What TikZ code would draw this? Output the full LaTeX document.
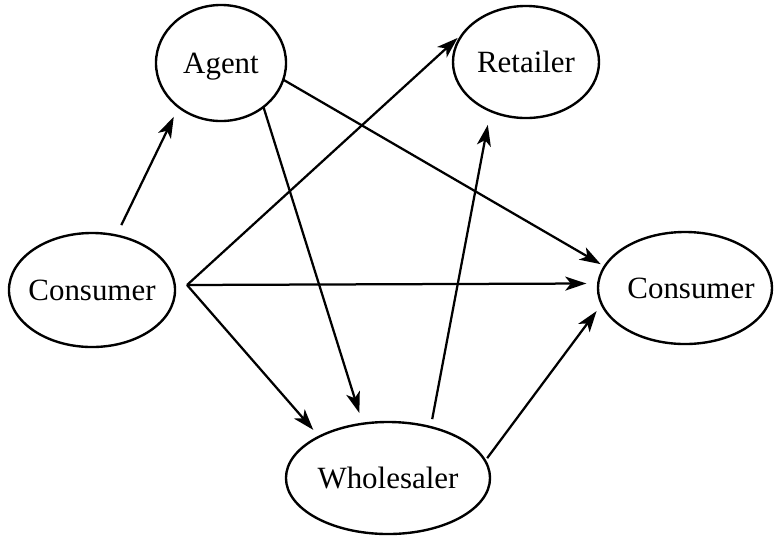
\documentclass[tikz,border=0pt]{standalone}
\usepackage{fontspec}
\setmainfont{Liberation Serif}
\usepackage{tikz}
\usetikzlibrary{shapes.geometric, arrows.meta, calc}

\begin{document}
\begin{tikzpicture}[x=0.025cm, y=-0.025cm,
    party/.style={ellipse, draw, line width=1.7pt, inner sep=0pt, outer sep=0pt,
      text depth=0pt, font=\fontsize{22}{26}\selectfont},
    flow/.style={line width=1.6pt, -{Stealth[length=15pt, width=10pt, inset=4pt]}}]
  \useasboundingbox (0,0) rectangle (776,535);
  \node[party, minimum width=3.25cm, minimum height=2.9cm] (agent) at (221,63) {\makebox[0pt]{Agent}};
  \node[party, minimum width=3.65cm, minimum height=2.8cm] (retailer) at (526,62) {\makebox[0pt]{Retailer}};
  \node[party, minimum width=4.15cm, minimum height=2.85cm] (consL) at (92,290) {\makebox[0pt]{Consumer}};
  \node[party, minimum width=4.35cm, minimum height=2.8cm] (consR) at (685,288) {\makebox[0pt]{\kern8.5pt Consumer}};
  \node[party, minimum width=5.1cm, minimum height=2.8cm] (wholesaler) at (388,478) {\makebox[0pt]{Wholesaler}};
  \coordinate (hub) at ($(consL.east)+(12,-5)$);
  \draw[flow, shorten <=8.2pt, shorten >=7.8pt] (consL.66.4) -- (agent.226.3);
  \draw[flow, shorten >=7.3pt] (hub) -- (retailer.153.9);
  \draw[flow, shorten >=8.5pt] (hub) -- (consR.177.4);
  \draw[flow, shorten >=6.4pt] (hub) -- (wholesaler.149.2);
  \draw[flow, shorten >=8pt] (agent.314.5) -- (wholesaler.115.3);
  \draw[flow, shorten >=3.3pt] (agent.345.9) -- (consR.165.7);
  \draw[flow, shorten <=5.8pt, shorten >=10.1pt] (wholesaler.50.2) -- (retailer.234.2);
  \draw[flow, shorten <=2.4pt, shorten >=6.1pt] (wholesaler.10.1) -- (consR.191.7);
\end{tikzpicture}
\end{document}
